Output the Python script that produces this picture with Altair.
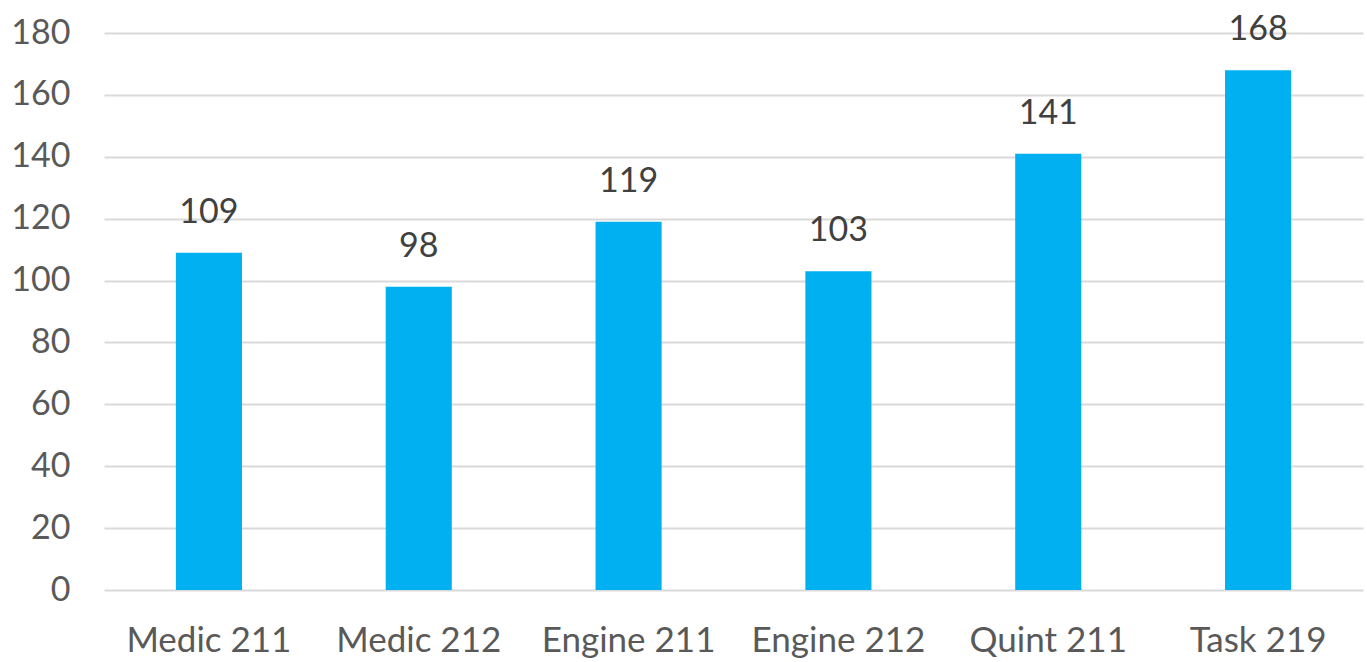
import altair as alt
import pandas as pd

categories = ["Medic 211", "Medic 212", "Engine 211", "Engine 212", "Quint 211", "Task 219"]
values = [109, 98, 119, 103, 141, 168]
y_ticks = [0, 20, 40, 60, 80, 100, 120, 140, 160, 180]

df = pd.DataFrame({"unit": categories, "count": values})

FONT = "Lato"
FS = 34

x = alt.X("unit:N", sort=categories, title=None,
          scale=alt.Scale(paddingInner=0.685, paddingOuter=0.3425),
          axis=alt.Axis(labelAngle=0, labelFont=FONT, labelFontSize=35, labelColor="#595959",
                        domain=False, ticks=False, grid=False, labelPadding=33))
y = alt.Y("count:Q", title=None, scale=alt.Scale(domain=[0, 180], nice=False),
          axis=alt.Axis(values=y_ticks, labelFont=FONT, labelFontSize=FS, labelColor="#595959",
                        domain=False, ticks=False, grid=True, gridColor="#D9D9D9", gridWidth=2,
                        labelPadding=34))

bars = alt.Chart(df).mark_bar(color="#00B0F0").encode(x=x, y=y)
labels = alt.Chart(df).mark_text(font=FONT, fontSize=FS, color="#404040", dy=-30, baseline="alphabetic").encode(
    x=alt.X("unit:N", sort=categories), y="count:Q", text="count:Q")

chart = (bars + labels).properties(
    width=1259, height=557,
    autosize=alt.AutoSizeParams(type="none"),
    padding={"left": 104, "top": 33, "right": 4, "bottom": 72},
    background="white",
).configure_view(stroke=None)

chart.save("out.html", embed_options={"renderer": "svg", "actions": False})
